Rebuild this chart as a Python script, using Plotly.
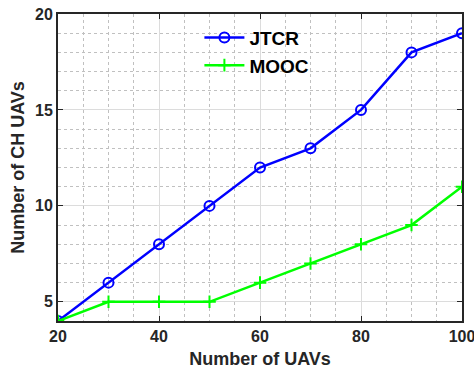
import plotly.graph_objects as go

num_uavs = [20, 30, 40, 50, 60, 70, 80, 90, 100]
jtcr = [4, 6, 8, 10, 12, 13, 15, 18, 19]
mooc = [4, 5, 5, 5, 6, 7, 8, 9, 11]

x_ticks = [20, 40, 60, 80, 100]
y_ticks = [5, 10, 15, 20]

font_family = "Liberation Sans, Arial, sans-serif"
axis_color = "#262626"

fig = go.Figure()
fig.add_trace(go.Scatter(
    x=num_uavs, y=jtcr, name="JTCR", mode="lines+markers",
    line=dict(color="#0000FF", width=2.5),
    marker=dict(symbol="circle-open", size=10, color="#0000FF", line=dict(width=2)),
))
fig.add_trace(go.Scatter(
    x=num_uavs, y=mooc, name="MOOC", mode="lines+markers",
    line=dict(color="#00FF00", width=2.5),
    marker=dict(symbol="cross-thin-open", size=9, color="#00FF00", line=dict(width=2, color="#00FF00")),
))

axis_common = dict(
    showline=True, linecolor=axis_color, linewidth=2, mirror="ticks",
    ticks="inside", ticklen=5, tickcolor=axis_color, tickwidth=1,
    showgrid=True, gridcolor="#DCDCDC", gridwidth=1,
    zeroline=False, automargin=False, ticklabeloverflow="allow",
    tickfont=dict(family=font_family, size=16, color=axis_color, weight="bold"),
)

fig.update_xaxes(
    range=[20, 100], tickvals=x_ticks,
    minor=dict(dtick=5, showgrid=True, gridcolor="#C0C0C0", griddash="dot", gridwidth=1),
    title=dict(text="Number of UAVs", standoff=8,
               font=dict(family=font_family, size=18, color=axis_color, weight="bold")),
    **axis_common,
)
fig.update_yaxes(
    range=[4, 20], tickvals=y_ticks,
    minor=dict(dtick=1, showgrid=True, gridcolor="#C0C0C0", griddash="dot", gridwidth=1),
    title=dict(text="Number of CH UAVs", standoff=6,
               font=dict(family=font_family, size=18, color=axis_color, weight="bold")),
    **axis_common,
)

fig.update_layout(
    width=474, height=374,
    margin=dict(l=58, r=12, t=14, b=53),
    paper_bgcolor="white", plot_bgcolor="white",
    showlegend=True,
    legend=dict(
        x=0.35, y=0.985, xanchor="left", yanchor="top",
        bgcolor="rgba(0,0,0,0)", borderwidth=0,
        font=dict(family=font_family, size=19, color="black", weight="bold"),
        itemwidth=40, tracegroupgap=0,
    ),
)

fig.write_html("out.html")
